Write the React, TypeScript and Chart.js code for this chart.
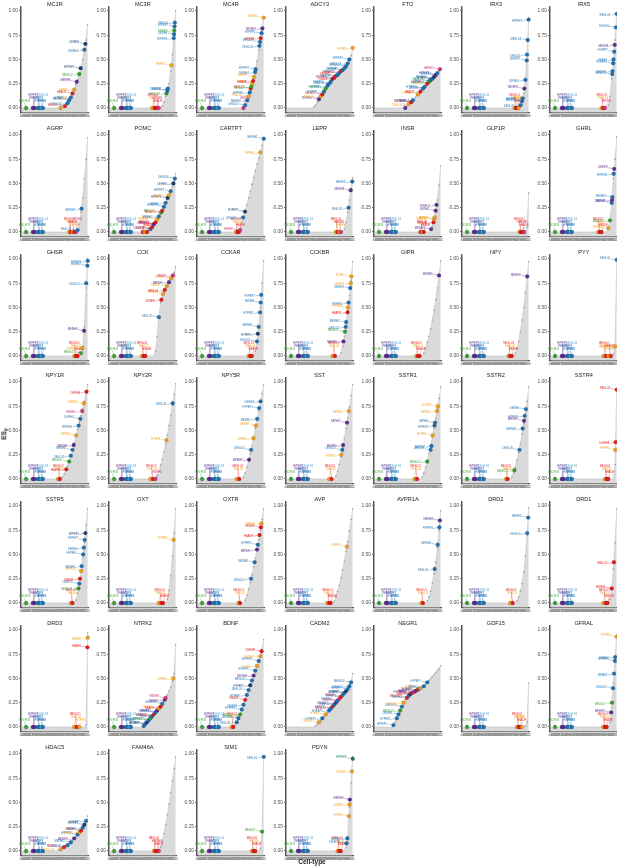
import React, { useEffect, useRef } from "react";
import { Chart, registerables } from "chart.js";
Chart.register(...registerables);

const FONT = "'Liberation Sans', Arial, Helvetica, sans-serif";
Chart.defaults.font.family = FONT;

const Y_TICKS = [0, 0.25, 0.5, 0.75, 1];
const X_LABELS = ["ABC","ACBG","ACMB","ACNT1","ACNT2","ACOB","ACTE1","ACTE2","CBGRC","CBINH1","CBINH2","CBNBL1","CBPC","CHOR","COP1","COP2","DEGLU1","DEGLU2","DEINH1","DGGRC1","DGGRC2","DGNBL1","DGNBL2","ENT1","ENT2","ENTG1","EPEN","EPMB","HBSER1","HYPEN","MFOL1","MGL1","MOL1","MSN1","OBDOP1","PER1","PVM1","RGDG","SZNBL","VLMC1"];

const COLOR_MAP: Record<string, string> = {
  g: "#33a02c", p: "#5e2d91", P: "#8e3fa6", b: "#1f72b4", B: "#1b3f73",
  l: "#4aa3df", o: "#f59f1a", r: "#e41a1c", m: "#d6337a", t: "#147a62",
};
const CELL_NAMES: Record<string, string[]> = {
  g: ["HBCHO3", "MEGLU7", "DEINH5"],
  p: ["TEINH12", "HYPEP3", "MEINH9", "DEINH2"],
  P: ["HYPEP6", "MEINH3"],
  b: ["HYPEP1", "HYPEP2", "DEINH3", "DEGLU5", "MEINH2", "HYPEP4", "DEINH4", "HYPEP7", "DEGLU4", "MEGLU3"],
  B: ["HYPEP5", "DEINH6"],
  l: ["DEGLU3", "MEINH5"],
  o: ["TEGLU4", "HYPEN", "DEINH7", "SCINH2"],
  r: ["MEGLU1", "HBADR", "DEINH8", "HBGLU4"],
  m: ["HBINH5", "TECHO"],
  t: ["HYPEP8"],
};

const GENES = [
  "MC1R","MC3R","MC4R","ADCY3","FTO","IRX3","IRX5",
  "AGRP","POMC","CARTPT","LEPR","INSR","GLP1R","GHRL",
  "GHSR","CCK","CCKAR","CCKBR","GIPR","NPY","PYY",
  "NPY1R","NPY2R","NPY5R","SST","SSTR1","SSTR2","SSTR4",
  "SSTR5","OXT","OXTR","AVP","AVPR1A","DRD2","DRD1",
  "DRD3","NTRK2","BDNF","CADM2","NEGR1","GDF15","GFRAL",
  "HDAC5","FAM46A","SIM1","PDYN",
];

// sorted ES values per gene (40 cell-type bins each)
const ES_MC1R = [0,0,0,0,0, 0,0,0,0,0, 0,0,0,0,0, 0,0,0,0,0, 0,0,0,0,0, .01,.03,.05,.08,.11,.15,.19,.24,.29,.35,.42,.5,.6,.7,.86];
const ES_MC3R = [0,0,0,0,0, 0,0,0,0,0, 0,0,0,0,0, 0,0,0,0,0, 0,0,0,0,0, 0,0,0,0,0, 0, .02,.06,.12,.18,.25,.38,.55,.78,1.0];
const ES_MC4R = [0,0,0,0,0, 0,0,0,0,0, 0,0,0,0,0, 0,0,0,0,0, 0,0,0,0,0, 0,0,0, .03,.07,.12,.18,.24,.3,.38,.48,.6,.7,.8,.93];
const ES_ADCY3 = [0,0,0,0,0, 0,0,0,0,0, 0,0,0,0,0, 0, .01,.03,.06,.09,.12,.14,.17,.2,.23,.25,.27,.3,.31,.33,.34,.36,.38,.39,.41,.43,.46,.5,.54,.62];
const ES_FTO = [0,0,0,0,0, 0,0,0,0,0, 0,0,0,0,0, 0,0,0, .005,.02,.04,.05,.07,.09,.11,.13,.15,.17,.19,.21,.23,.25,.27,.29,.3,.32,.34,.36,.38,.41];
const ES_IRX3 = [0,0,0,0,0, 0,0,0,0,0, 0,0,0,0,0, 0,0,0,0,0, 0,0,0,0,0, 0,0,0,0,0, 0,0,0,0, .02,.06,.15,.3,.55,.93];
const ES_IRX5 = [0,0,0,0,0, 0,0,0,0,0, 0,0,0,0,0, 0,0,0,0,0, 0,0,0,0,0, 0,0,0,0,0, 0,0,0,0, .03,.12,.3,.48,.7,.98];
const ES_AGRP = [0,0,0,0,0, 0,0,0,0,0, 0,0,0,0,0, 0,0,0,0,0, 0,0,0,0,0, 0,0,0,0,0, 0,0,0, .02,.08,.2,.35,.55,.75,.97];
const ES_POMC = [0,0,0,0,0, 0,0,0,0,0, 0,0,0,0,0, 0,0,0,0,0, 0,0,0, .01,.03,.05,.08,.1,.13,.16,.19,.22,.26,.3,.34,.38,.42,.47,.52,.6];
const ES_CARTPT = [0,0,0,0,0, 0,0,0,0,0, 0,0,0,0,0, 0,0,0,0,0, 0,0,0,0,0, .04,.1,.16,.22,.28,.35,.42,.49,.56,.63,.7,.76,.82,.89,.97];
const ES_LEPR = [0,0,0,0,0, 0,0,0,0,0, 0,0,0,0,0, 0,0,0,0,0, 0,0,0,0,0, 0,0,0,0,0, 0,0,0,0, .03,.1,.2,.33,.45,.56];
const ES_INSR = [0,0,0,0,0, 0,0,0,0,0, 0,0,0,0,0, 0,0,0,0,0, 0,0,0,0,0, 0,0,0,0,0, 0,0,0, .02,.06,.12,.22,.33,.48,.68];
const ES_GLP1R = [0,0,0,0,0, 0,0,0,0,0, 0,0,0,0,0, 0,0,0,0,0, 0,0,0,0,0, 0,0,0,0,0, 0,0,0,0,0, 0,0,0, .05,.4];
const ES_GHRL = [0,0,0,0,0, 0,0,0,0,0, 0,0,0,0,0, 0,0,0,0,0, 0,0,0,0,0, 0,0,0,0,0, 0,0,0,0, .04,.12,.3,.55,.75,.98];
const ES_GHSR = [0,0,0,0,0, 0,0,0,0,0, 0,0,0,0,0, 0,0,0,0,0, 0,0,0,0,0, 0,0,0,0,0, 0,0,0,0,0, .03,.1,.3,.7,1.0];
const ES_CCK = [0,0,0,0,0, 0,0,0,0,0, 0,0,0,0,0, 0,0,0,0,0, 0,0,0,0,0, 0,0, .05,.2,.4,.55,.62,.66,.7,.73,.76,.79,.82,.86,.92];
const ES_CCKAR = [0,0,0,0,0, 0,0,0,0,0, 0,0,0,0,0, 0,0,0,0,0, 0,0,0,0,0, 0,0,0,0,0, 0,0,0,0, .05,.15,.3,.5,.75,.98];
const ES_CCKBR = [0,0,0,0,0, 0,0,0,0,0, 0,0,0,0,0, 0,0,0,0,0, 0,0,0,0,0, 0,0,0,0,0, 0,0, .03,.1,.2,.33,.47,.62,.78,.97];
const ES_GIPR = [0,0,0,0,0, 0,0,0,0,0, 0,0,0,0,0, 0,0,0,0,0, 0,0,0,0,0, 0,0,0,0, .03,.08,.14,.2,.28,.37,.47,.58,.7,.83,.98];
const ES_NPY = [0,0,0,0,0, 0,0,0,0,0, 0,0,0,0,0, 0,0,0,0,0, 0,0,0,0,0, 0,0,0,0,0, 0, .03,.08,.15,.25,.37,.5,.65,.8,.97];
const ES_PYY = [0,0,0,0,0, 0,0,0,0,0, 0,0,0,0,0, 0,0,0,0,0, 0,0,0,0,0, 0,0,0,0,0, 0,0,0,0,0, 0,0, .02,.1,1.0];
const ES_NPY1R = [0,0,0,0,0, 0,0,0,0,0, 0,0,0,0,0, 0,0,0,0,0, 0,0,0,0, .02,.05,.09,.13,.18,.24,.3,.37,.44,.51,.58,.65,.72,.8,.88,.97];
const ES_NPY2R = [0,0,0,0,0, 0,0,0,0,0, 0,0,0,0,0, 0,0,0,0,0, 0,0,0,0,0, 0,0,0, .03,.08,.14,.2,.28,.36,.45,.55,.65,.76,.87,.98];
const ES_NPY5R = [0,0,0,0,0, 0,0,0,0,0, 0,0,0,0,0, 0,0,0,0,0, 0,0,0,0,0, 0,0, .02,.06,.12,.18,.26,.34,.43,.52,.61,.7,.79,.88,.97];
const ES_SST = [0,0,0,0,0, 0,0,0,0,0, 0,0,0,0,0, 0,0,0,0,0, 0,0,0,0,0, 0,0,0,0, .03,.08,.15,.23,.32,.42,.52,.63,.74,.86,.97];
const ES_SSTR1 = [0,0,0,0,0, 0,0,0,0,0, 0,0,0,0,0, 0,0,0,0,0, 0,0,0,0,0, 0,0,0, .02,.06,.12,.18,.26,.34,.43,.52,.62,.72,.83,.95];
const ES_SSTR2 = [0,0,0,0,0, 0,0,0,0,0, 0,0,0,0,0, 0,0,0,0,0, 0,0,0,0,0, 0,0,0,0, .02,.06,.12,.19,.27,.36,.46,.57,.68,.8,.95];
const ES_SSTR4 = [0,0,0,0,0, 0,0,0,0,0, 0,0,0,0,0, 0,0,0,0,0, 0,0,0,0,0, 0,0,0,0,0, 0,0,0,0,0, 0,0,0, .15,.92];
const ES_SSTR5 = [0,0,0,0,0, 0,0,0,0,0, 0,0,0,0,0, 0,0,0,0,0, 0,0,0,0,0, 0,0,0,0,0, 0,0, .03,.1,.2,.32,.46,.62,.8,.97];
const ES_OXT = [0,0,0,0,0, 0,0,0,0,0, 0,0,0,0,0, 0,0,0,0,0, 0,0,0,0,0, 0,0,0,0,0, 0,0,0,0, .04,.13,.28,.48,.72,.97];
const ES_OXTR = [0,0,0,0,0, 0,0,0,0,0, 0,0,0,0,0, 0,0,0,0,0, 0,0,0,0,0, 0,0,0, .03,.08,.14,.21,.29,.37,.46,.55,.65,.75,.86,.97];
const ES_AVP = [0,0,0,0,0, 0,0,0,0,0, 0,0,0,0,0, 0,0,0,0,0, 0,0,0,0,0, 0,0,0, .02,.06,.12,.18,.26,.34,.43,.53,.63,.74,.86,.97];
const ES_AVPR1A = [0,0,0,0,0, 0,0,0,0,0, 0,0,0,0,0, 0,0,0,0,0, 0,0,0,0,0, 0,0,0,0,0, 0, .02,.06,.12,.2,.3,.42,.57,.75,.95];
const ES_DRD2 = [0,0,0,0,0, 0,0,0,0,0, 0,0,0,0,0, 0,0,0,0,0, 0,0,0,0,0, 0,0,0,0,0, 0,0, .02,.06,.12,.2,.32,.48,.7,.98];
const ES_DRD1 = [0,0,0,0,0, 0,0,0,0,0, 0,0,0,0,0, 0,0,0,0,0, 0,0,0,0,0, 0,0,0,0,0, 0,0,0,0,0, .04,.15,.35,.62,.97];
const ES_DRD3 = [0,0,0,0,0, 0,0,0,0,0, 0,0,0,0,0, 0,0,0,0,0, 0,0,0,0,0, 0,0,0,0,0, 0,0,0,0,0, 0,0,0, .02,.97];
const ES_NTRK2 = [0,0,0,0,0, 0,0,0,0,0, 0,0,0,0,0, 0,0,0,0,0, .01,.03,.05,.07,.09,.11,.13,.15,.17,.19,.21,.24,.27,.3,.33,.37,.41,.47,.55,.85];
const ES_BDNF = [0,0,0,0,0, 0,0,0,0,0, 0,0,0,0,0, 0,0,0,0,0, 0,0, .02,.05,.09,.13,.18,.23,.28,.33,.38,.43,.48,.53,.58,.63,.68,.73,.8,.9];
const ES_CADM2 = [0,0,0,0,0, 0,0,0,0,0, 0,0,0,0,0, 0,0, .01,.03,.05,.07,.09,.11,.13,.15,.17,.19,.21,.23,.25,.27,.29,.31,.33,.35,.37,.39,.42,.46,.55];
const ES_NEGR1 = [0,0,0,0,0, 0,0,0,0,0, 0, .02,.05,.09,.13,.17,.21,.25,.28,.3,.32,.34,.35,.36,.37,.38,.39,.4,.41,.42,.44,.46,.48,.5,.52,.54,.56,.58,.6,.63];
const ES_GDF15 = [0,0,0,0,0, 0,0,0,0,0, 0,0,0,0,0, 0,0,0,0,0, 0,0,0,0,0, 0,0,0,0,0, 0,0,0,0,0, 0,0, .01,.05,.45];
const ES_GFRAL = [0,0,0,0,0, 0,0,0,0,0, 0,0,0,0,0, 0,0,0,0,0, 0,0,0,0,0, 0,0,0,0,0, 0,0,0,0,0, .05,.2,.45,.7,.95];
const ES_HDAC5 = [0,0,0,0,0, 0,0,0,0,0, 0,0,0,0,0, 0,0,0,0,0, 0,0, .01,.02,.03,.04,.05,.06,.08,.09,.11,.13,.15,.17,.19,.21,.24,.27,.31,.36];
const ES_FAM46A = [0,0,0,0,0, 0,0,0,0,0, 0,0,0,0,0, 0,0,0,0,0, 0,0,0,0,0, 0,0,0,0,0, .04,.1,.18,.27,.37,.48,.6,.72,.85,.97];
const ES_SIM1 = [0,0,0,0,0, 0,0,0,0,0, 0,0,0,0,0, 0,0,0,0,0, 0,0,0,0,0, 0,0,0,0,0, 0,0,0,0,0, 0,0, .02,.2,.98];
const ES_PDYN = [0,0,0,0,0, 0,0,0,0,0, 0,0,0,0,0, 0,0,0,0,0, 0,0,0,0,0, 0,0,0,0,0, 0,0,0,0,0, .04,.15,.45,.7,.97];

// highlighted cell types: [bin position, ES, colour group]
const BASE_PTS = [[2.5,0,"g"],[6.5,0,"p"],[7.5,0,"p"],[9.5,0,"b"],[10.5,0,"b"],[11.5,0,"l"],[12.5,0,"b"]];
const PTS_MC1R = [[23,0,"o"],[25.5,0.02,"r"],[27,0.05,"b"],[28,0.08,"b"],[29,0.11,"b"],[30,0.15,"r"],[31,0.19,"o"],[32.5,0.27,"p"],[34,0.35,"g"],[34.8,0.41,"B"],[37,0.6,"b"],[37.6,0.66,"B"]];
const PTS_MC3R = [[25,0,"o"],[26.5,0,"r"],[27.5,0,"r"],[29,0,"m"],[33.5,0.15,"g"],[34,0.18,"b"],[34.3,0.2,"b"],[36.4,0.44,"o"],[37.8,0.72,"b"],[38,0.76,"b"],[38.1,0.8,"g"],[38.3,0.84,"b"],[38.5,0.88,"b"]];
const PTS_MC4R = [[27,0,"m"],[28,0.03,"b"],[29.2,0.08,"b"],[30,0.12,"o"],[30.7,0.16,"b"],[31.3,0.2,"r"],[31.7,0.22,"g"],[32.2,0.25,"o"],[32.7,0.28,"r"],[33.2,0.32,"o"],[33.9,0.37,"b"],[34.2,0.4,"b"],[36.4,0.64,"b"],[36.8,0.68,"b"],[37.2,0.72,"r"],[37.7,0.77,"b"],[38.2,0.82,"p"],[39,0.93,"o"]];
const PTS_ADCY3 = [[19,0.09,"p"],[20,0.12,"o"],[21,0.14,"r"],[22,0.17,"b"],[23,0.2,"g"],[24,0.23,"b"],[25,0.25,"b"],[26,0.27,"b"],[27,0.3,"p"],[28,0.31,"r"],[29,0.33,"r"],[30,0.34,"b"],[31,0.36,"b"],[32,0.38,"r"],[33,0.39,"b"],[34,0.41,"b"],[35,0.43,"b"],[36,0.46,"b"],[37,0.5,"b"],[39,0.62,"o"]];
const PTS_FTO = [[18,0,"p"],[20,0.04,"o"],[21.5,0.06,"r"],[22.5,0.08,"b"],[25.5,0.14,"o"],[27,0.17,"r"],[28.5,0.2,"b"],[29.5,0.22,"b"],[31,0.25,"r"],[32,0.27,"g"],[32.5,0.28,"g"],[33,0.29,"b"],[34,0.3,"b"],[35,0.32,"B"],[36,0.34,"p"],[37,0.36,"b"],[38.5,0.4,"m"]];
const PTS_IRX3 = [[30.5,0,"o"],[31.5,0,"r"],[32.2,0,"r"],[33,0,"o"],[34.2,0.03,"b"],[35,0.07,"b"],[35.4,0.1,"b"],[36.4,0.2,"p"],[37,0.29,"b"],[37.8,0.49,"b"],[38,0.55,"b"],[38.4,0.7,"b"],[38.9,0.91,"b"]];
const PTS_IRX5 = [[30,0,"o"],[31,0,"r"],[32,0,"m"],[36.3,0.35,"b"],[36.5,0.38,"b"],[36.9,0.46,"b"],[37.1,0.5,"b"],[37.5,0.58,"b"],[37.8,0.65,"p"],[38.5,0.83,"b"],[39,0.97,"b"]];
const PTS_AGRP = [[28,0,"o"],[29,0,"r"],[30,0,"o"],[31,0,"r"],[32,0,"m"],[33,0.02,"b"],[35.3,0.24,"b"]];
const PTS_POMC = [[19.5,0,"r"],[20.5,0,"o"],[22,0,"r"],[24,0.03,"b"],[25,0.05,"r"],[26,0.08,"p"],[27,0.1,"r"],[28,0.13,"o"],[29,0.16,"b"],[30.3,0.2,"g"],[31,0.22,"r"],[32,0.26,"b"],[33,0.3,"b"],[34.2,0.35,"B"],[35,0.38,"o"],[36,0.42,"b"],[37.6,0.5,"B"],[38.5,0.55,"b"]];
const PTS_CARTPT = [[22.5,0,"o"],[23.5,0,"r"],[24.3,0,"r"],[25,0.02,"m"],[26.8,0.15,"b"],[27.9,0.21,"B"],[37,0.82,"o"],[39,0.96,"b"]];
const PTS_LEPR = [[29,0,"o"],[30,0,"r"],[31,0,"o"],[32,0,"m"],[36.5,0.25,"b"],[37.8,0.43,"p"],[38.7,0.52,"b"]];
const PTS_INSR = [[27,0,"r"],[28,0,"o"],[29,0,"r"],[33.3,0.03,"p"],[34.7,0.1,"r"],[35.1,0.13,"o"],[35.4,0.15,"o"],[36,0.22,"p"],[36.5,0.28,"p"]];
const PTS_GLP1R = [[33.5,0,"o"],[34.3,0,"r"],[35.3,0,"r"],[36.3,0,"m"]];
const PTS_GHRL = [[28,0,"o"],[29,0,"r"],[30,0,"r"],[34,0.04,"o"],[35,0.12,"g"],[36,0.3,"b"],[36.2,0.33,"p"],[36.4,0.36,"b"],[37.2,0.6,"b"],[37.5,0.65,"p"]];
const PTS_GHSR = [[31,0,"o"],[32,0,"r"],[33,0,"r"],[35,0.03,"g"],[35.8,0.08,"o"],[36.8,0.26,"p"],[38.1,0.75,"b"],[38.8,0.93,"b"],[39,0.98,"b"]];
const PTS_CCK = [[19,0,"o"],[20,0,"r"],[21,0,"r"],[29,0.4,"b"],[30.5,0.58,"r"],[31.5,0.64,"o"],[32.5,0.68,"r"],[33.7,0.72,"o"],[35,0.76,"p"],[36.3,0.8,"o"],[37.3,0.83,"m"]];
const PTS_CCKAR = [[30,0,"o"],[31,0,"r"],[32,0,"r"],[35,0.15,"b"],[35.5,0.23,"B"],[36,0.3,"b"],[36.8,0.45,"b"],[37.2,0.55,"b"],[37.5,0.63,"b"]];
const PTS_CCKBR = [[27,0,"o"],[28.5,0,"r"],[33.5,0.15,"p"],[34.4,0.25,"g"],[34.8,0.3,"b"],[35.1,0.35,"b"],[35.9,0.45,"r"],[36.2,0.5,"o"],[36.5,0.55,"b"],[37.5,0.7,"b"],[37.8,0.75,"o"],[38.2,0.82,"o"]];
const PTS_GIPR = [[24.5,0,"o"],[25.5,0,"r"],[26.5,0,"r"],[38,0.83,"p"]];
const PTS_NPY = [[27,0,"o"],[28,0,"r"],[29,0,"r"],[38.1,0.82,"p"]];
const PTS_PYY = [[31,0,"o"],[32.5,0,"r"],[34,0,"o"],[35.5,0,"r"],[38,0.1,"o"],[39,0.99,"b"]];
const PTS_NPY1R = [[21.5,0,"o"],[22.5,0,"r"],[26.3,0.1,"r"],[28,0.18,"g"],[29,0.24,"b"],[30,0.3,"b"],[30.7,0.35,"p"],[32.1,0.45,"o"],[33.6,0.55,"b"],[34.6,0.62,"b"],[35.7,0.7,"m"],[36.7,0.78,"o"],[38.3,0.9,"r"]];
const PTS_NPY2R = [[24,0,"o"],[25.5,0,"r"],[27,0,"m"],[33.5,0.4,"o"],[37.2,0.78,"b"]];
const PTS_NPY5R = [[23,0,"o"],[24.5,0,"r"],[30.3,0.2,"p"],[31.5,0.3,"b"],[32.9,0.42,"o"],[34.3,0.55,"o"],[35.1,0.62,"b"],[36.3,0.73,"b"],[37.1,0.8,"b"]];
const PTS_SST = [[25,0,"o"],[26.5,0,"r"],[32.2,0.25,"o"],[32.8,0.3,"b"],[33.3,0.35,"p"],[35.6,0.58,"p"],[36.7,0.7,"o"]];
const PTS_SSTR1 = [[23.5,0,"o"],[25,0,"r"],[31,0.18,"g"],[33,0.3,"b"],[33.5,0.34,"b"],[34.2,0.45,"o"],[35.3,0.55,"b"],[35.6,0.58,"b"],[36.8,0.7,"o"],[37.3,0.75,"o"]];
const PTS_SSTR2 = [[25.5,0,"o"],[26.5,0,"r"],[30.5,0.09,"g"],[33.5,0.3,"b"],[35.4,0.52,"b"],[36.2,0.6,"p"],[36.6,0.65,"b"],[37.3,0.72,"b"]];
const PTS_SSTR4 = [[32,0,"o"],[33,0,"r"],[34,0,"r"],[38.2,0.3,"o"],[38.3,0.38,"r"],[39,0.92,"r"]];
const PTS_SSTR5 = [[29,0,"o"],[30,0,"r"],[33.5,0.15,"g"],[34,0.2,"b"],[34.4,0.25,"r"],[35.1,0.33,"o"],[35.4,0.38,"b"],[36.3,0.5,"b"],[36.7,0.57,"b"],[37.2,0.65,"b"],[37.6,0.72,"B"]];
const PTS_OXT = [[29,0,"o"],[30.5,0,"r"],[31.5,0,"r"],[37.7,0.65,"o"]];
const PTS_OXTR = [[24,0,"o"],[25,0,"r"],[31.5,0.25,"b"],[33.6,0.42,"b"],[35,0.55,"p"],[35.5,0.6,"b"],[36.5,0.7,"r"],[37.3,0.78,"r"],[37.6,0.82,"o"]];
const PTS_AVP = [[24,0,"o"],[25,0,"r"],[26,0,"r"],[35.5,0.58,"o"]];
const PTS_AVPR1A = [[27.5,0,"o"],[28.5,0,"r"],[35.4,0.35,"b"],[37.2,0.6,"b"],[38.2,0.78,"b"],[38.5,0.85,"p"]];
const PTS_DRD2 = [[28,0,"o"],[29.5,0,"r"],[38.1,0.72,"b"],[38.7,0.88,"b"]];
const PTS_DRD1 = [[31,0,"o"],[32.5,0,"r"],[33.5,0,"r"],[36,0.15,"r"],[37.3,0.42,"r"]];
const PTS_DRD3 = [[31,0,"o"],[32.5,0,"r"],[34,0,"o"],[38.8,0.82,"r"],[39,0.92,"o"]];
const PTS_NTRK2 = [[20,0.01,"b"],[21,0.03,"b"],[22,0.05,"B"],[23,0.07,"b"],[24,0.09,"g"],[25,0.11,"b"],[26,0.13,"r"],[27,0.15,"b"],[28,0.17,"p"],[29,0.19,"o"],[30,0.21,"r"],[31,0.24,"b"],[32.5,0.28,"p"],[33,0.3,"m"],[37.5,0.5,"o"]];
const PTS_BDNF = [[20,0,"o"],[21,0,"r"],[23,0.05,"b"],[24,0.09,"b"],[25,0.13,"g"],[26,0.18,"b"],[27,0.23,"b"],[28,0.28,"r"],[29,0.33,"b"],[30,0.38,"b"],[31,0.43,"B"],[32,0.48,"b"],[33,0.53,"p"],[34,0.58,"b"],[35,0.63,"o"],[36,0.68,"b"],[37,0.73,"o"],[37.7,0.78,"r"]];
const PTS_CADM2 = [[19,0.05,"o"],[21,0.09,"b"],[23,0.13,"o"],[25,0.17,"b"],[26,0.19,"b"],[27,0.21,"r"],[28,0.23,"b"],[29,0.25,"p"],[30,0.27,"b"],[31,0.29,"m"],[32,0.31,"r"],[33,0.33,"b"],[34,0.35,"b"],[35,0.37,"B"],[36,0.39,"b"],[37,0.42,"b"],[38,0.46,"b"]];
const PTS_NEGR1 = [[11,0.02,"b"],[13,0.09,"b"],[14,0.13,"b"],[15,0.17,"g"],[16,0.21,"b"],[17,0.25,"o"],[19,0.3,"r"],[20,0.32,"b"],[21,0.34,"B"],[22,0.35,"r"],[23,0.36,"m"],[24,0.37,"p"],[25,0.38,"r"],[26,0.39,"b"],[27,0.4,"o"],[29,0.42,"b"],[31,0.46,"b"]];
const PTS_GDF15 = [[32,0,"o"],[33,0,"r"],[34,0,"r"],[35,0,"o"]];
const PTS_GFRAL = [[31,0,"o"],[32,0,"r"],[33,0,"r"],[35.7,0.15,"p"],[36.2,0.25,"g"],[36.8,0.4,"b"],[37.4,0.55,"b"],[37.9,0.68,"b"],[38.1,0.72,"b"],[39,0.93,"o"]];
const PTS_HDAC5 = [[23,0.02,"o"],[25,0.04,"r"],[27,0.06,"b"],[29,0.09,"b"],[31,0.13,"p"],[33,0.17,"b"],[34,0.19,"o"],[35,0.21,"r"],[36,0.24,"b"],[37,0.27,"B"],[38,0.31,"b"]];
const PTS_FAM46A = [[26,0,"o"],[27,0,"r"],[28,0,"r"],[29,0,"m"]];
const PTS_SIM1 = [[32,0,"o"],[33,0,"r"],[34,0,"r"],[38,0.2,"g"],[39,0.97,"b"]];
const PTS_PDYN = [[30,0,"o"],[31,0,"r"],[32,0,"r"],[35.3,0.08,"b"],[35.8,0.13,"b"],[36.7,0.36,"o"],[37.1,0.48,"o"],[37.3,0.53,"p"],[38.5,0.82,"o"],[39,0.95,"t"]];

type Pt = (number | string)[];
const withBase = (p: Pt[]) => [...BASE_PTS, ...p];
const PANELS: [string, number[], Pt[]][] = [
  ["MC1R", ES_MC1R, withBase(PTS_MC1R)], ["MC3R", ES_MC3R, withBase(PTS_MC3R)], ["MC4R", ES_MC4R, withBase(PTS_MC4R)],
  ["ADCY3", ES_ADCY3, PTS_ADCY3], ["FTO", ES_FTO, PTS_FTO], ["IRX3", ES_IRX3, withBase(PTS_IRX3)], ["IRX5", ES_IRX5, withBase(PTS_IRX5)],
  ["AGRP", ES_AGRP, withBase(PTS_AGRP)], ["POMC", ES_POMC, withBase(PTS_POMC)], ["CARTPT", ES_CARTPT, withBase(PTS_CARTPT)],
  ["LEPR", ES_LEPR, withBase(PTS_LEPR)], ["INSR", ES_INSR, withBase(PTS_INSR)], ["GLP1R", ES_GLP1R, withBase(PTS_GLP1R)], ["GHRL", ES_GHRL, withBase(PTS_GHRL)],
  ["GHSR", ES_GHSR, withBase(PTS_GHSR)], ["CCK", ES_CCK, withBase(PTS_CCK)], ["CCKAR", ES_CCKAR, withBase(PTS_CCKAR)],
  ["CCKBR", ES_CCKBR, withBase(PTS_CCKBR)], ["GIPR", ES_GIPR, withBase(PTS_GIPR)], ["NPY", ES_NPY, withBase(PTS_NPY)], ["PYY", ES_PYY, withBase(PTS_PYY)],
  ["NPY1R", ES_NPY1R, withBase(PTS_NPY1R)], ["NPY2R", ES_NPY2R, withBase(PTS_NPY2R)], ["NPY5R", ES_NPY5R, withBase(PTS_NPY5R)],
  ["SST", ES_SST, withBase(PTS_SST)], ["SSTR1", ES_SSTR1, withBase(PTS_SSTR1)], ["SSTR2", ES_SSTR2, withBase(PTS_SSTR2)], ["SSTR4", ES_SSTR4, withBase(PTS_SSTR4)],
  ["SSTR5", ES_SSTR5, withBase(PTS_SSTR5)], ["OXT", ES_OXT, withBase(PTS_OXT)], ["OXTR", ES_OXTR, withBase(PTS_OXTR)],
  ["AVP", ES_AVP, withBase(PTS_AVP)], ["AVPR1A", ES_AVPR1A, withBase(PTS_AVPR1A)], ["DRD2", ES_DRD2, withBase(PTS_DRD2)], ["DRD1", ES_DRD1, withBase(PTS_DRD1)],
  ["DRD3", ES_DRD3, withBase(PTS_DRD3)], ["NTRK2", ES_NTRK2, withBase(PTS_NTRK2)], ["BDNF", ES_BDNF, withBase(PTS_BDNF)],
  ["CADM2", ES_CADM2, PTS_CADM2], ["NEGR1", ES_NEGR1, PTS_NEGR1], ["GDF15", ES_GDF15, withBase(PTS_GDF15)], ["GFRAL", ES_GFRAL, withBase(PTS_GFRAL)],
  ["HDAC5", ES_HDAC5, withBase(PTS_HDAC5)], ["FAM46A", ES_FAM46A, withBase(PTS_FAM46A)], ["SIM1", ES_SIM1, withBase(PTS_SIM1)], ["PDYN", ES_PDYN, withBase(PTS_PDYN)],
];

const COL_STEP = 88.2;
const ROW_STEP = 123.8;
const CW = 89;
const CH = 124;

function Panel({ index }: { index: number }) {
  const ref = useRef<HTMLCanvasElement | null>(null);
  const [gene, es, pts] = PANELS[index];
  const col = index % 7;
  const row = Math.floor(index / 7);

  useEffect(() => {
    if (!ref.current) return;
    const decor = {
      id: "decor" + index,
      beforeDatasetDraw(chart: any, args: any) {
        if (args.index !== 1) return;
        const ctx = chart.ctx;
        const meta = chart.getDatasetMeta(1);
        const counters: Record<string, number> = {};
        ctx.save();
        ctx.font = `2.6px ${FONT}`;
        ctx.lineWidth = 0.35;
        meta.data.forEach((el: any, i: number) => {
          const p = pts[i];
          const c = p[2] as string;
          const color = COLOR_MAP[c];
          const names = CELL_NAMES[c];
          counters[c] = (counters[c] ?? -1) + 1;
          const name = names[counters[c] % names.length];
          const base = (p[1] as number) < 0.015;
          let lx: number, ly: number;
          if (base) {
            lx = el.x + ((i % 2) ? 1.5 : -1.5);
            ly = el.y - (5 + (i % 3) * 3.2);
          } else {
            lx = el.x - 6;
            ly = el.y + ((i % 2) ? 1.2 : -1.2);
          }
          ctx.strokeStyle = color;
          ctx.beginPath();
          ctx.moveTo(el.x, el.y);
          ctx.lineTo(lx, ly);
          ctx.stroke();
          ctx.fillStyle = color;
          ctx.textBaseline = base ? "bottom" : "middle";
          ctx.textAlign = base ? "center" : "right";
          ctx.fillText(name, base ? lx : lx - 0.5, ly);
        });
        ctx.restore();
      },
      afterDraw(chart: any) {
        const { ctx, chartArea } = chart;
        ctx.save();
        ctx.font = `5.6px ${FONT}`;
        ctx.fillStyle = "#222";
        ctx.textAlign = "center";
        ctx.textBaseline = "middle";
        ctx.fillText(gene, (chartArea.left + chartArea.right) / 2, 4.2);
        ctx.restore();
      },
    };

    const chart = new Chart(ref.current, {
      type: "line",
      data: {
        datasets: [
          {
            data: es.map((v, i) => ({ x: i, y: v })),
            fill: "start",
            backgroundColor: "#dadada",
            borderColor: "#c2c2c2",
            borderWidth: 0.6,
            tension: 0,
            pointRadius: (ctx: any) => (ctx.raw && ctx.raw.y > 0 ? 0.8 : 0),
            pointBackgroundColor: "#9a9a9a",
            pointBorderWidth: 0,
            order: 2,
          } as any,
          {
            type: "scatter",
            data: pts.map((p) => ({ x: p[0] as number, y: p[1] as number })),
            pointRadius: 1.9,
            pointBackgroundColor: pts.map((p) => COLOR_MAP[p[2] as string]),
            pointBorderColor: "rgba(0,0,0,0.35)",
            pointBorderWidth: 0.4,
            showLine: false,
            clip: false,
            order: 1,
          } as any,
        ],
      },
      options: {
        responsive: false,
        animation: false,
        devicePixelRatio: 1,
        layout: { padding: { top: 7, right: 0, left: 0, bottom: 0 } },
        plugins: { legend: { display: false }, tooltip: { enabled: false }, title: { display: false } },
        scales: {
          x: {
            type: "linear",
            min: -0.5,
            max: 39.5,
            grid: { display: false, drawTicks: false },
            border: { display: true, color: "#4a4a4a", width: 1.3 },
            ticks: {
              font: { size: 2.8, family: FONT },
              color: "#8c8c8c",
              padding: 1.4,
              autoSkip: false,
              maxRotation: 0,
              minRotation: 0,
              align: "inner",
              callback: (v: any) => X_LABELS[Number(v)] ?? "",
            },
            afterBuildTicks: (s: any) => {
              s.ticks = X_LABELS.map((_, i) => ({ value: i }));
            },
            afterFit: (s: any) => {
              s.height = 11.15;
            },
          },
          y: {
            min: -0.05,
            max: 1.04,
            grid: { display: true, drawOnChartArea: false, drawTicks: true, tickLength: 2, tickColor: "#555", tickWidth: 0.8 },
            border: { display: true, color: "#555", width: 1.5 },
            ticks: {
              font: { size: 4.9, family: FONT },
              color: "#4d4d4d",
              padding: 1,
              callback: (v: any) => Number(v).toFixed(2),
            },
            afterBuildTicks: (s: any) => {
              s.ticks = Y_TICKS.map((v) => ({ value: v }));
            },
            afterFit: (s: any) => {
              s.width = 17;
            },
          },
        },
      } as any,
      plugins: [decor],
    });
    return () => chart.destroy();
  }, []);

  return (
    <canvas
      ref={ref}
      width={CW}
      height={CH}
      style={{ position: "absolute", left: 4 + col * COL_STEP, top: row * ROW_STEP, width: CW, height: CH }}
    />
  );
}

export default function App() {
  return (
    <div style={{ position: "absolute", left: 0, top: 0, width: 617, height: 868, background: "#fff", overflow: "hidden", fontFamily: FONT }}>
      {PANELS.map((_, i) => (
        <Panel key={GENES[i]} index={i} />
      ))}
      <div
        style={{
          position: "absolute", left: 5, top: 434, transform: "translate(-50%, -50%) rotate(-90deg)",
          fontSize: 6.5, fontWeight: "bold", color: "#222", whiteSpace: "nowrap", lineHeight: 1,
        }}
      >
        ES<span style={{ fontSize: 4.5, verticalAlign: "-1px" }}>μ</span>
      </div>
      <div
        style={{
          position: "absolute", left: 312, top: 862, transform: "translate(-50%, -50%)",
          fontSize: 6.5, fontWeight: "bold", color: "#222", whiteSpace: "nowrap", lineHeight: 1,
        }}
      >
        Cell-type
      </div>
    </div>
  );
}
